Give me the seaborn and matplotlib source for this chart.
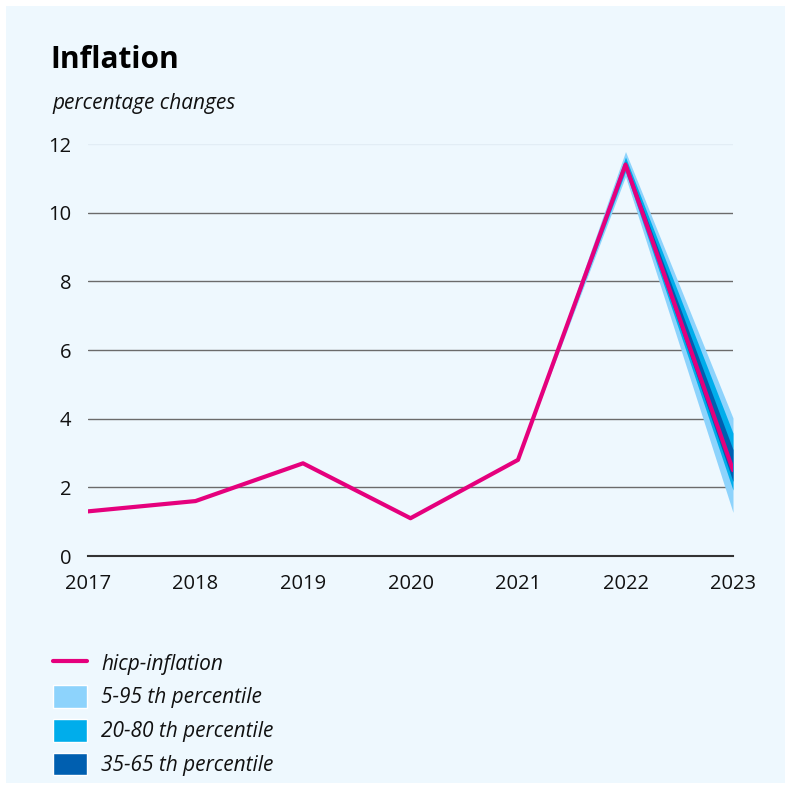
import pandas as pd
import matplotlib
matplotlib.use('Agg')
import matplotlib.pyplot as plt
import seaborn as sns
from matplotlib.patches import Patch, Rectangle
from matplotlib.lines import Line2D

# data
years = [2017, 2018, 2019, 2020, 2021, 2022, 2023]
hicp = [1.3, 1.6, 2.7, 1.1, 2.8, 11.4, 2.5]

band_years = [2021, 2022, 2023]
p5 = [2.8, 11.05, 1.27]
p95 = [2.8, 11.78, 4.02]
p20 = [2.8, 11.2, 1.92]
p80 = [2.8, 11.62, 3.58]
p35 = [2.8, 11.3, 2.17]
p65 = [2.8, 11.5, 3.10]

ytick_vals = [0, 2, 4, 6, 8, 10, 12]
legend_labels = ['hicp-inflation', '5-95 th percentile', '20-80 th percentile', '35-65 th percentile']

bg = '#eef8fe'
c_line = '#e5007d'
c_light = '#8dd3fc'
c_mid = '#00adeb'
c_dark = '#005fb0'

sns.set_style('white')
plt.rcParams['font.family'] = ['Open Sans', 'DejaVu Sans']
plt.rcParams['text.color'] = '#111111'

df = pd.DataFrame({'year': years, 'hicp': hicp})

fig = plt.figure(figsize=(7.9, 7.89), dpi=100)
fig.patch.set_facecolor('white')
fig.patches.append(Rectangle((6/790, 6/789), 779/790, 777/789, transform=fig.transFigure,
                             facecolor=bg, edgecolor='none', zorder=-10))

ax = fig.add_axes([88/790, 1-556/789, (733-88)/790, (556-144)/789])
ax.set_facecolor(bg)

ax.fill_between(band_years, p5, p95, color=c_light, lw=0, zorder=2)
ax.fill_between(band_years, p20, p80, color=c_mid, lw=0, zorder=3)
ax.fill_between(band_years, p35, p65, color=c_dark, lw=0, zorder=4)
sns.lineplot(data=df, x='year', y='hicp', ax=ax, color=c_line, lw=3, zorder=5)

ax.set_xlim(2017, 2023)
ax.set_ylim(0, 12)
ax.set_yticks(ytick_vals)
ax.set_xticks(years)
for v in ytick_vals[1:-1]:
    ax.axhline(v, color='#6b6b6b', lw=1, zorder=1)
ax.axhline(12, color='#e2edf5', lw=1, zorder=1)

for s in ['top', 'right', 'left']:
    ax.spines[s].set_visible(False)
ax.spines['bottom'].set_color('#333333')
ax.spines['bottom'].set_linewidth(1.5)
ax.tick_params(axis='y', length=0, pad=12, labelsize=14.5, colors='#111111')
ax.tick_params(axis='x', length=9, width=1, color='#777777', pad=4, labelsize=14.5, colors='#111111')
ax.set_xlabel('')
ax.set_ylabel('')

fig.text(50/790, 1-60/789, 'Inflation', fontsize=21.5, fontweight='bold', va='center', ha='left', color='black')
fig.text(52/790, 1-104/789, 'percentage changes', fontsize=15, style='italic', va='center', ha='left')

handles = [Line2D([0], [0], color=c_line, lw=3),
           Patch(facecolor=c_light), Patch(facecolor=c_mid), Patch(facecolor=c_dark)]
leg = fig.legend(handles, legend_labels, loc='upper left', bbox_to_anchor=(45/790, 1-643/789),
                 frameon=False, prop={'size': 15, 'style': 'italic'}, handlelength=1.6,
                 handleheight=1.3, labelspacing=0.5, handletextpad=0.7, borderaxespad=0)

fig.savefig('out.png', dpi=100, facecolor='white')
